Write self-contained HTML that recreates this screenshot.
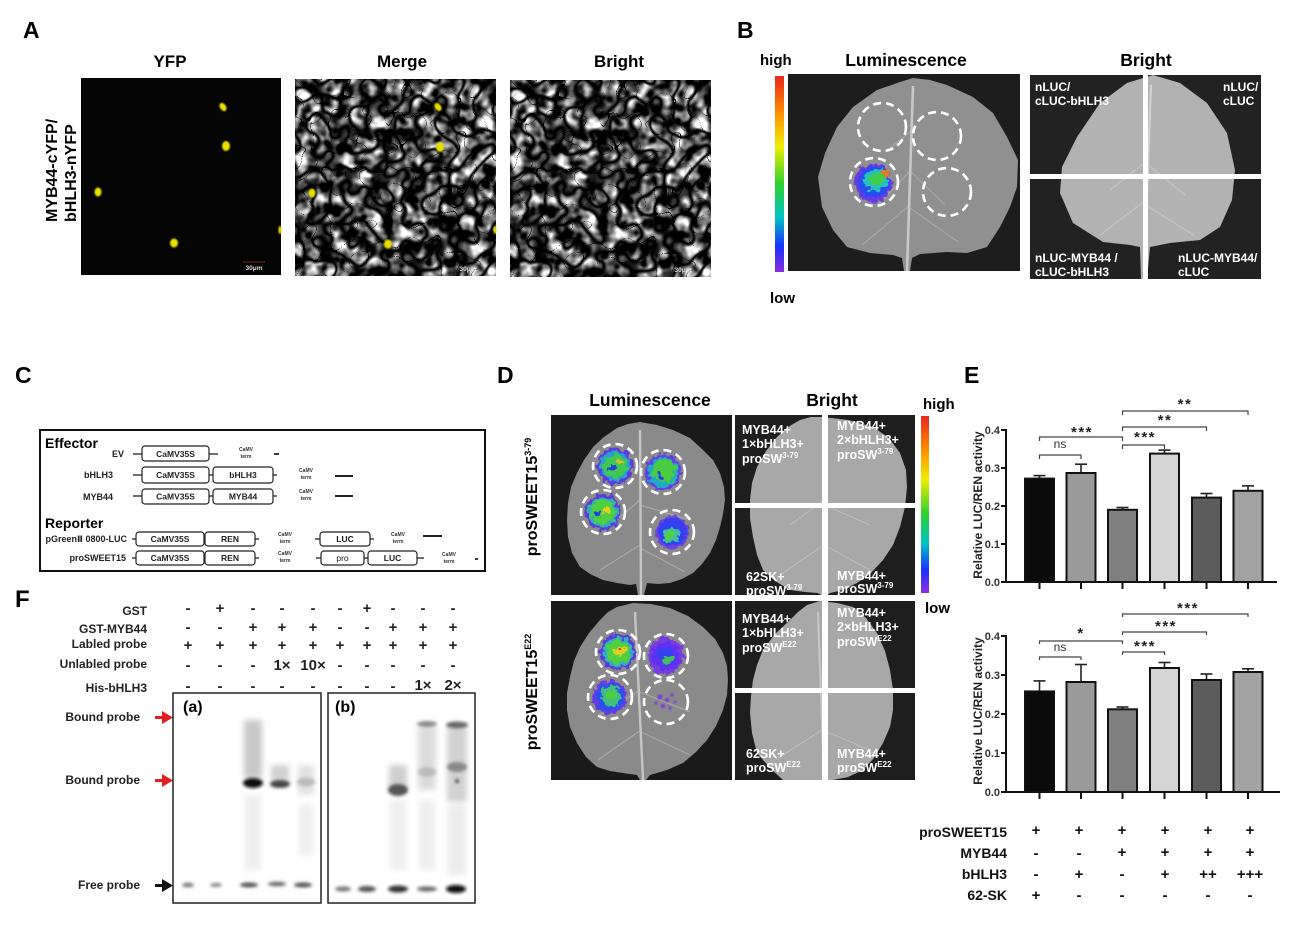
<!DOCTYPE html>
<html><head><meta charset="utf-8">
<style>
html,body{margin:0;padding:0;background:#fff;}
svg{display:block;}
text{font-family:"Liberation Sans","DejaVu Sans",Arial,sans-serif;}
.b{font-weight:bold;}
.w{fill:#fff;font-weight:bold;font-size:12.5px;}
.s{font-size:9px;font-weight:bold;fill:#222;}
.bx{font-size:8.5px;font-weight:bold;fill:#222;}
.t{font-size:5px;font-weight:bold;fill:#333;}
</style></head><body>
<svg width="1304" height="926" viewBox="0 0 1304 926" xmlns="http://www.w3.org/2000/svg">
<defs>
 <linearGradient id="cbar" x1="0" y1="0" x2="0" y2="1">
  <stop offset="0" stop-color="#e8261e"/>
  <stop offset="0.18" stop-color="#ff8a00"/>
  <stop offset="0.36" stop-color="#f0ee00"/>
  <stop offset="0.55" stop-color="#2ed12e"/>
  <stop offset="0.72" stop-color="#00c4c4"/>
  <stop offset="0.87" stop-color="#1a30ff"/>
  <stop offset="1" stop-color="#8a2ee0"/>
 </linearGradient>
 <filter id="cells" x="0" y="0" width="1" height="1" color-interpolation-filters="sRGB">
  <feTurbulence type="turbulence" baseFrequency="0.055" numOctaves="1" seed="7" result="t1"/>
  <feColorMatrix in="t1" type="matrix" values="6 0 0 0 -0.12  6 0 0 0 -0.12  6 0 0 0 -0.12  0 0 0 0 1" result="lines"/>
  <feTurbulence type="fractalNoise" baseFrequency="0.08" numOctaves="2" seed="3" result="t2"/>
  <feColorMatrix in="t2" type="matrix" values="2.6 0 0 0 -0.85  2.6 0 0 0 -0.85  2.6 0 0 0 -0.85  0 0 0 0 1" result="tone"/>
  <feComposite in="lines" in2="tone" operator="arithmetic" k1="1" k2="0" k3="0" k4="0"/>
 </filter>
 <filter id="rough" x="-40%" y="-40%" width="180%" height="180%">
  <feTurbulence type="fractalNoise" baseFrequency="0.2" numOctaves="2" seed="5" result="t"/>
  <feDisplacementMap in="SourceGraphic" in2="t" scale="9" xChannelSelector="R" yChannelSelector="G"/>
 </filter>
 <filter id="bl1" x="-50%" y="-50%" width="200%" height="200%"><feGaussianBlur stdDeviation="1.6"/></filter>
 <filter id="bl3" x="-50%" y="-50%" width="200%" height="200%"><feGaussianBlur stdDeviation="3"/></filter>
 <filter id="glow" x="-50%" y="-50%" width="200%" height="200%"><feGaussianBlur stdDeviation="0.7"/></filter>
</defs>

<!-- ================= PANEL A ================= -->
<text x="23" y="38" font-size="23" class="b">A</text>
<text x="170" y="67" font-size="17" class="b" text-anchor="middle">YFP</text>
<text x="402" y="67" font-size="17" class="b" text-anchor="middle">Merge</text>
<text x="619" y="67" font-size="17" class="b" text-anchor="middle">Bright</text>
<text transform="rotate(-90)" x="-222" y="57" font-size="16" class="b">MYB44-cYFP/</text>
<text transform="rotate(-90)" x="-222" y="76" font-size="16" class="b">bHLH3-nYFP</text>

<rect x="81" y="78" width="200" height="197" fill="#050505"/>
<g fill="#ece000" filter="url(#glow)">
 <ellipse cx="223" cy="107" rx="3" ry="4.5" transform="rotate(-35 223 107)"/>
 <ellipse cx="226" cy="146" rx="4" ry="5"/>
 <ellipse cx="98" cy="192" rx="3.5" ry="4.5"/>
 <ellipse cx="174" cy="243" rx="4" ry="4.5"/>
 <ellipse cx="280" cy="230" rx="1.5" ry="4"/>
</g>
<line x1="243" y1="262" x2="265" y2="262" stroke="#a03020" stroke-width="0.8"/>
<text x="254" y="270" font-size="6.5" fill="#ddd" text-anchor="middle" class="b">30μm</text>

<g transform="translate(295,79)"><rect x="0" y="0" width="201" height="197" filter="url(#cells)"/></g>
<g fill="#e8dc00" filter="url(#glow)">
 <ellipse cx="438" cy="107" rx="3" ry="4.5" transform="rotate(-35 438 107)"/>
 <ellipse cx="440" cy="147" rx="4" ry="5"/>
 <ellipse cx="312" cy="193" rx="3.5" ry="4.5"/>
 <ellipse cx="388" cy="244" rx="4" ry="4.5"/>
 <ellipse cx="495" cy="230" rx="1.5" ry="4"/>
</g>
<text x="468" y="271" font-size="6.5" fill="#ddd" text-anchor="middle" class="b">30μm</text>
<g transform="translate(510,80)"><rect x="0" y="0" width="201" height="197" filter="url(#cells)"/></g>
<text x="683" y="272" font-size="6.5" fill="#ddd" text-anchor="middle" class="b">30μm</text>

<!-- ================= PANEL B ================= -->
<text x="737" y="38" font-size="23" class="b">B</text>
<text x="760" y="65" font-size="15" class="b">high</text>
<text x="906" y="66" font-size="17.5" class="b" text-anchor="middle">Luminescence</text>
<text x="1146" y="66" font-size="17.5" class="b" text-anchor="middle">Bright</text>
<rect x="775" y="76" width="9" height="196" fill="url(#cbar)"/>
<text x="770" y="303" font-size="15" class="b">low</text>

<rect x="788" y="74" width="232" height="197" fill="#1d1d1d"/>
<polygon fill="#909090" points="913,78 930,80 947,85 973,97 993,113 1007,137 1018,160 1017,187 1010,207 1000,227 987,247 967,253 947,252 920,254 912,258 910,271 904,271 902,258 893,255 870,253 847,247 833,230 822,207 818,177 825,153 837,127 853,107 877,90 900,82"/>
<g stroke="#a6a6a6" stroke-width="1.2" fill="none">
 <path d="M910,205 L862,245"/><path d="M910,208 L958,242"/><path d="M911,170 L878,205"/><path d="M911,172 L945,205"/><path d="M912,130 L888,150"/>
</g>
<path d="M913,86 L907,271" stroke="#c8c8c8" stroke-width="2.6"/>
<g filter="url(#rough)">
 <circle cx="873" cy="183" r="19" fill="#6a3ae0"/>
 <circle cx="874" cy="182" r="16" fill="#2a4cf0"/>
 <ellipse cx="876" cy="180" rx="12" ry="11" fill="#28c0c0"/>
 <ellipse cx="877" cy="179" rx="8" ry="7" fill="#40cc50"/>
 <ellipse cx="886" cy="173" rx="4" ry="3" fill="#e08020"/>
</g>
<g fill="none" stroke="#fff" stroke-width="2.6" stroke-dasharray="8 5">
 <circle cx="882" cy="127" r="24"/><circle cx="937" cy="136" r="24"/>
 <circle cx="874" cy="182" r="24"/><circle cx="947" cy="192" r="24"/>
</g>

<rect x="1030" y="75" width="231" height="204" fill="#222"/>
<polygon fill="#b2b2b2" points="1153,75 1180,83 1207,103 1227,133 1235,170 1232,200 1220,227 1200,240 1170,243 1150,247 1147,279 1141,279 1140,247 1130,245 1103,242 1073,223 1060,193 1062,167 1077,137 1100,103 1127,83"/>
<g stroke="#c4c4c4" stroke-width="1.2" fill="none">
 <path d="M1146,200 L1100,235"/><path d="M1146,205 L1195,236"/><path d="M1148,160 L1110,190"/><path d="M1148,165 L1185,195"/>
</g>
<path d="M1151,85 L1144,279" stroke="#d4d4d4" stroke-width="2"/>
<rect x="1143" y="75" width="5" height="204" fill="#fff"/>
<rect x="1030" y="174" width="231" height="5" fill="#fff"/>
<text x="1035" y="91" font-size="12" class="b" fill="#fff">nLUC/</text>
<text x="1035" y="105" font-size="12" class="b" fill="#fff">cLUC-bHLH3</text>
<text x="1223" y="91" font-size="12" class="b" fill="#fff">nLUC/</text>
<text x="1223" y="105" font-size="12" class="b" fill="#fff">cLUC</text>
<text x="1035" y="262" font-size="12" class="b" fill="#fff">nLUC-MYB44 /</text>
<text x="1035" y="276" font-size="12" class="b" fill="#fff">cLUC-bHLH3</text>
<text x="1178" y="262" font-size="12" class="b" fill="#fff">nLUC-MYB44/</text>
<text x="1178" y="276" font-size="12" class="b" fill="#fff">cLUC</text>

<!-- ================= PANEL C ================= -->
<text x="15" y="383" font-size="23" class="b">C</text>
<rect x="40" y="430" width="445" height="141" fill="none" stroke="#111" stroke-width="2"/>
<text x="45" y="448" font-size="14" class="b">Effector</text>
<text x="45" y="528" font-size="14" class="b">Reporter</text>
<g stroke="#222" stroke-width="1.3" fill="none">
 <line x1="133" y1="454" x2="142" y2="454"/><line x1="209" y1="454" x2="218" y2="454"/>
 <line x1="274" y1="454" x2="279" y2="454" stroke-width="1.8"/>
 <line x1="133" y1="475" x2="142" y2="475"/><line x1="209" y1="475" x2="213" y2="475"/><line x1="273" y1="475" x2="277" y2="475"/>
 <line x1="335" y1="476" x2="353" y2="476" stroke-width="2"/>
 <line x1="133" y1="496" x2="142" y2="496"/><line x1="209" y1="496" x2="213" y2="496"/><line x1="273" y1="496" x2="277" y2="496"/>
 <line x1="335" y1="496" x2="353" y2="496" stroke-width="2"/>
 <line x1="132" y1="539" x2="136" y2="539"/><line x1="255" y1="539" x2="259" y2="539"/>
 <line x1="315" y1="539" x2="320" y2="539"/><line x1="370" y1="539" x2="374" y2="539"/>
 <line x1="423" y1="536" x2="442" y2="536" stroke-width="2"/>
 <line x1="132" y1="558" x2="136" y2="558"/><line x1="255" y1="558" x2="259" y2="558"/>
 <line x1="316" y1="558" x2="321" y2="558"/><line x1="364" y1="558" x2="368" y2="558"/>
 <line x1="417" y1="558" x2="424" y2="558"/>
 <line x1="475" y1="559" x2="478" y2="559" stroke-width="1.8"/>
</g>
<g fill="#fff" stroke="#222" stroke-width="1.2">
 <rect x="142" y="446" width="67" height="15" rx="3"/>
 <rect x="142" y="467" width="67" height="16" rx="3"/><rect x="213" y="467" width="60" height="16" rx="3"/>
 <rect x="142" y="489" width="67" height="15" rx="3"/><rect x="213" y="489" width="60" height="15" rx="3"/>
 <rect x="136" y="532" width="68" height="14" rx="3"/><rect x="205" y="532" width="50" height="14" rx="3"/><rect x="320" y="532" width="50" height="14" rx="3"/>
 <rect x="136" y="551" width="68" height="14" rx="3"/><rect x="205" y="551" width="50" height="14" rx="3"/><rect x="321" y="551" width="43" height="14" rx="3"/><rect x="368" y="551" width="49" height="14" rx="3"/>
</g>
<text x="124" y="457" class="s" text-anchor="end">EV</text>
<text x="113" y="478" class="s" text-anchor="end">bHLH3</text>
<text x="113" y="500" class="s" text-anchor="end">MYB44</text>
<text x="127" y="542" class="s" text-anchor="end">pGreenⅡ 0800-LUC</text>
<text x="126" y="561" class="s" text-anchor="end">proSWEET15</text>
<g class="bx" text-anchor="middle">
 <text x="175.5" y="457">CaMV35S</text>
 <text x="175.5" y="478">CaMV35S</text><text x="243" y="478">bHLH3</text>
 <text x="175.5" y="499.5">CaMV35S</text><text x="243" y="499.5">MYB44</text>
 <text x="170" y="542">CaMV35S</text><text x="230" y="542">REN</text><text x="345" y="542">LUC</text>
 <text x="170" y="561">CaMV35S</text><text x="230" y="561">REN</text><text x="342.5" y="561" font-weight="normal">pro</text><text x="392.5" y="561">LUC</text>
</g>
<g class="t" text-anchor="middle">
 <text x="246" y="451">CaMV</text><text x="246" y="458">term</text>
 <text x="306" y="472">CaMV</text><text x="306" y="479">term</text>
 <text x="306" y="493">CaMV</text><text x="306" y="500">term</text>
 <text x="285" y="536">CaMV</text><text x="285" y="543">term</text>
 <text x="398" y="536">CaMV</text><text x="398" y="543">term</text>
 <text x="285" y="555">CaMV</text><text x="285" y="562">term</text>
 <text x="449" y="556">CaMV</text><text x="449" y="563">term</text>
</g>

<!-- ================= PANEL D ================= -->
<text x="497" y="383" font-size="23" class="b">D</text>
<text x="650" y="406" font-size="17.5" class="b" text-anchor="middle">Luminescence</text>
<text x="832" y="406" font-size="17.5" class="b" text-anchor="middle">Bright</text>
<text x="923" y="409" font-size="15" class="b">high</text>
<rect x="921" y="416" width="8" height="177" fill="url(#cbar)"/>
<text x="925" y="613" font-size="15" class="b">low</text>
<text transform="rotate(-90)" x="-497" y="537" font-size="16" class="b" text-anchor="middle">proSWEET15<tspan font-size="9" dy="-6">3-79</tspan></text>
<text transform="rotate(-90)" x="-692" y="537" font-size="16" class="b" text-anchor="middle">proSWEET15<tspan font-size="9" dy="-6">E22</tspan></text>

<rect x="551" y="415" width="181" height="180" fill="#1a1a1a"/>
<polygon fill="#8a8a8a" points="640,422 657,425 673,430 690,438 703,450 713,460 720,473 724,487 725,500 723,514 720,527 716,540 710,553 702,564 693,573 682,579 670,583 658,584 647,583 644,595 638,595 636,584 630,585 617,583 603,580 590,574 580,567 572,553 568,537 567,520 568,503 571,487 577,473 584,460 593,447 604,437 617,428 628,424"/>
<g stroke="#a8a8a8" stroke-width="1.2" fill="none"><path d="M640,545 L600,570"/><path d="M640,548 L685,572"/><path d="M640,500 L605,530"/><path d="M640,505 L690,520"/></g>
<path d="M640,430 L641,595" stroke="#c6c6c6" stroke-width="2.4"/>
<g filter="url(#rough)">
 <circle cx="615" cy="466" r="18" fill="#5a3ae0"/><circle cx="615" cy="466" r="15" fill="#2aa0d0"/><circle cx="615" cy="466" r="12" fill="#40c850"/><ellipse cx="612" cy="468" rx="4" ry="3" fill="#2040e0"/><ellipse cx="620" cy="462" rx="3" ry="2" fill="#d8c020"/>
 <circle cx="663" cy="472" r="18" fill="#6040e0"/><circle cx="663" cy="472" r="15" fill="#20a8c8"/><circle cx="664" cy="471" r="12" fill="#48cc40"/><ellipse cx="660" cy="476" rx="3" ry="3" fill="#2040e0"/>
 <circle cx="603" cy="512" r="18" fill="#5a3ae0"/><circle cx="603" cy="512" r="15" fill="#30b0b0"/><circle cx="603" cy="512" r="12" fill="#50d040"/><ellipse cx="606" cy="510" rx="4" ry="3" fill="#e0d020"/><ellipse cx="598" cy="514" rx="3" ry="2" fill="#2040e0"/>
 <circle cx="672" cy="532" r="17" fill="#7040e0"/><circle cx="672" cy="532" r="14" fill="#3040f0"/><ellipse cx="671" cy="535" rx="9" ry="7" fill="#40c0a0"/><ellipse cx="670" cy="536" rx="5" ry="4" fill="#50d040"/>
</g>
<g fill="none" stroke="#fff" stroke-width="2.6" stroke-dasharray="8 5">
 <circle cx="615" cy="466" r="22"/><circle cx="663" cy="472" r="22"/><circle cx="603" cy="512" r="22"/><circle cx="672" cy="532" r="22"/>
</g>

<rect x="735" y="415" width="180" height="180" fill="#1e1e1e"/>
<polygon fill="#a8a8a8" points="823,417 848,420 873,427 889,438 900,453 906,470 907,487 905,507 900,527 893,545 883,560 871,573 857,583 843,590 830,593 827,595 821,595 818,593 805,592 790,590 775,581 763,570 757,555 753,537 750,518 750,500 752,483 757,467 766,451 777,437 788,427 800,420 811,417"/>
<g stroke="#bcbcbc" stroke-width="1.2" fill="none"><path d="M824,545 L780,575"/><path d="M824,545 L870,570"/><path d="M824,500 L790,525"/><path d="M824,505 L870,525"/></g>
<path d="M823,425 L824,595" stroke="#c8c8c8" stroke-width="2"/>
<rect x="822" y="415" width="6" height="180" fill="#fff"/>
<rect x="735" y="503" width="180" height="5" fill="#fff"/>
<text x="742" y="434" class="w">MYB44+</text>
<text x="742" y="448" class="w">1×bHLH3+</text>
<text x="742" y="463" class="w">proSW<tspan font-size="8" dy="-5">3-79</tspan></text>
<text x="837" y="430" class="w">MYB44+</text>
<text x="837" y="444" class="w">2×bHLH3+</text>
<text x="837" y="459" class="w">proSW<tspan font-size="8" dy="-5">3-79</tspan></text>
<text x="746" y="581" class="w">62SK+</text>
<text x="746" y="595" class="w">proSW<tspan font-size="8" dy="-5">3-79</tspan></text>
<text x="837" y="580" class="w">MYB44+</text>
<text x="837" y="593" class="w">proSW<tspan font-size="8" dy="-5">3-79</tspan></text>

<rect x="551" y="601" width="181" height="179" fill="#1a1a1a"/>
<polygon fill="#8a8a8a" points="633,603 651,604 670,608 688,616 703,627 715,639 723,653 727,666 728,680 727,695 723,710 716,726 707,740 696,752 683,763 667,770 650,775 646,780 640,780 637,775 623,773 610,771 597,767 586,757 577,743 570,727 567,710 567,693 570,677 574,661 580,647 589,633 600,620 608,612 617,607"/>
<g stroke="#a8a8a8" stroke-width="1.2" fill="none"><path d="M641,730 L598,760"/><path d="M641,732 L690,755"/><path d="M640,690 L600,715"/><path d="M640,692 L690,712"/></g>
<path d="M635,612 L643,780" stroke="#c6c6c6" stroke-width="2.4"/>
<g filter="url(#rough)">
 <circle cx="618" cy="652" r="18" fill="#5a3ae0"/><circle cx="618" cy="652" r="15" fill="#30b0c0"/><circle cx="618" cy="652" r="12" fill="#50d040"/><ellipse cx="620" cy="650" rx="6" ry="5" fill="#e0d020"/><ellipse cx="621" cy="649" rx="2.5" ry="2" fill="#e04020"/>
 <circle cx="666" cy="656" r="18" fill="#7a3ae0"/><circle cx="666" cy="656" r="14" fill="#5a30f0"/><ellipse cx="664" cy="654" rx="8" ry="6" fill="#3040f0"/><ellipse cx="668" cy="660" rx="5" ry="4" fill="#40c060"/>
 <circle cx="610" cy="697" r="17" fill="#6a3ae0"/><circle cx="610" cy="697" r="14" fill="#2a50f0"/><circle cx="611" cy="696" r="10" fill="#40c080"/><ellipse cx="612" cy="695" rx="5" ry="4" fill="#50d040"/>
</g>
<g fill="#7a3ae0" filter="url(#glow)">
 <circle cx="660" cy="697" r="2.5"/><circle cx="667" cy="700" r="2"/><circle cx="672" cy="695" r="1.8"/><circle cx="663" cy="706" r="2.2"/><circle cx="670" cy="708" r="1.6"/><circle cx="656" cy="703" r="1.5"/><circle cx="675" cy="702" r="1.4"/>
</g>
<g fill="none" stroke="#fff" stroke-width="2.6" stroke-dasharray="8 5">
 <circle cx="618" cy="652" r="22"/><circle cx="666" cy="656" r="22"/><circle cx="610" cy="697" r="22"/><circle cx="666" cy="702" r="22"/>
</g>

<rect x="735" y="601" width="180" height="179" fill="#1e1e1e"/>
<polygon fill="#a8a8a8" points="820,601 837,603 853,607 866,618 877,633 885,651 890,670 893,690 893,710 890,727 883,743 874,758 863,770 848,777 833,780 783,780 770,768 757,753 752,733 750,713 751,696 753,680 757,665 763,650 775,634 790,620 798,612 807,605"/>
<g stroke="#bcbcbc" stroke-width="1.2" fill="none"><path d="M822,730 L775,760"/><path d="M822,730 L870,750"/></g>
<path d="M818,612 L824,780" stroke="#c8c8c8" stroke-width="2"/>
<rect x="822" y="601" width="6" height="179" fill="#fff"/>
<rect x="735" y="688" width="180" height="5" fill="#fff"/>
<text x="742" y="623" class="w">MYB44+</text>
<text x="742" y="637" class="w">1×bHLH3+</text>
<text x="742" y="652" class="w">proSW<tspan font-size="8" dy="-5">E22</tspan></text>
<text x="837" y="617" class="w">MYB44+</text>
<text x="837" y="631" class="w">2×bHLH3+</text>
<text x="837" y="646" class="w">proSW<tspan font-size="8" dy="-5">E22</tspan></text>
<text x="746" y="758" class="w">62SK+</text>
<text x="746" y="772" class="w">proSW<tspan font-size="8" dy="-5">E22</tspan></text>
<text x="837" y="758" class="w">MYB44+</text>
<text x="837" y="772" class="w">proSW<tspan font-size="8" dy="-5">E22</tspan></text>

<!-- ================= PANEL E ================= -->
<text x="964" y="383" font-size="23" class="b">E</text>
<text transform="rotate(-90)" x="-505" y="982" font-size="12" class="b" fill="#222" text-anchor="middle">Relative LUC/REN activity</text>
<g font-size="11" class="b" fill="#333" text-anchor="end">
 <text x="1000" y="434">0.4</text><text x="1000" y="472">0.3</text><text x="1000" y="510">0.2</text><text x="1000" y="548">0.1</text><text x="1000" y="586">0.0</text>
</g>
<g stroke="#111" stroke-width="2">
 <line x1="1006" y1="429" x2="1006" y2="583"/><line x1="1005" y1="582" x2="1277" y2="582"/>
 <line x1="1001" y1="430" x2="1006" y2="430"/><line x1="1001" y1="468" x2="1006" y2="468"/><line x1="1001" y1="506" x2="1006" y2="506"/><line x1="1001" y1="544" x2="1006" y2="544"/><line x1="1001" y1="582" x2="1006" y2="582"/>
 <line x1="1039.5" y1="582" x2="1039.5" y2="589"/><line x1="1081" y1="582" x2="1081" y2="589"/><line x1="1122.5" y1="582" x2="1122.5" y2="589"/><line x1="1164.5" y1="582" x2="1164.5" y2="589"/><line x1="1206.5" y1="582" x2="1206.5" y2="589"/><line x1="1248" y1="582" x2="1248" y2="589"/>
</g>
<g stroke="#222" stroke-width="1.6">
 <line x1="1039.5" y1="478.6" x2="1039.5" y2="475.6"/><line x1="1033.5" y1="475.6" x2="1045.5" y2="475.6"/>
 <line x1="1081" y1="473" x2="1081" y2="464.2"/><line x1="1075" y1="464.2" x2="1087" y2="464.2"/>
 <line x1="1122.5" y1="509.8" x2="1122.5" y2="507.5"/><line x1="1116.5" y1="507.5" x2="1128.5" y2="507.5"/>
 <line x1="1164.5" y1="453.6" x2="1164.5" y2="450.1"/><line x1="1158.5" y1="450.1" x2="1170.5" y2="450.1"/>
 <line x1="1206.5" y1="497.6" x2="1206.5" y2="493.5"/><line x1="1200.5" y1="493.5" x2="1212.5" y2="493.5"/>
 <line x1="1248" y1="490.8" x2="1248" y2="485.9"/><line x1="1242" y1="485.9" x2="1254" y2="485.9"/>
</g>
<g stroke="#111" stroke-width="2">
 <rect x="1025" y="478.6" width="29" height="103.4" fill="#0b0b0b"/>
 <rect x="1066.5" y="473" width="29" height="109" fill="#9a9a9a"/>
 <rect x="1108" y="509.8" width="29" height="72.2" fill="#808080"/>
 <rect x="1150" y="453.6" width="29" height="128.4" fill="#d5d5d5"/>
 <rect x="1192" y="497.6" width="29" height="84.4" fill="#5c5c5c"/>
 <rect x="1233.5" y="490.8" width="29" height="91.2" fill="#a2a2a2"/>
</g>
<g stroke="#444" stroke-width="1.2" fill="none">
 <path d="M1039.5,459 V455 H1081 V459"/>
 <path d="M1039.5,441 V437 H1122.5 V441"/>
 <path d="M1122.5,449 V445 H1164.5 V449"/>
 <path d="M1122.5,431 V427 H1206.5 V431"/>
 <path d="M1122.5,415 V411 H1248 V415"/>
</g>
<text x="1060" y="448" font-size="12" fill="#333" text-anchor="middle">ns</text>
<g font-size="15" class="b" fill="#222" text-anchor="middle" letter-spacing="1.5">
 <text x="1082" y="437">***</text><text x="1145" y="442">***</text><text x="1165" y="425">**</text><text x="1185" y="409">**</text>
</g>

<text transform="rotate(-90)" x="-711" y="982" font-size="12" class="b" fill="#222" text-anchor="middle">Relative LUC/REN activity</text>
<g font-size="11" class="b" fill="#333" text-anchor="end">
 <text x="1000" y="640">0.4</text><text x="1000" y="679">0.3</text><text x="1000" y="718">0.2</text><text x="1000" y="757">0.1</text><text x="1000" y="796">0.0</text>
</g>
<g stroke="#111" stroke-width="2">
 <line x1="1006" y1="635" x2="1006" y2="793"/><line x1="1005" y1="792" x2="1280" y2="792"/>
 <line x1="1001" y1="636" x2="1006" y2="636"/><line x1="1001" y1="675" x2="1006" y2="675"/><line x1="1001" y1="714" x2="1006" y2="714"/><line x1="1001" y1="753" x2="1006" y2="753"/><line x1="1001" y1="792" x2="1006" y2="792"/>
 <line x1="1039.5" y1="792" x2="1039.5" y2="799"/><line x1="1081" y1="792" x2="1081" y2="799"/><line x1="1122.5" y1="792" x2="1122.5" y2="799"/><line x1="1164.5" y1="792" x2="1164.5" y2="799"/><line x1="1206.5" y1="792" x2="1206.5" y2="799"/><line x1="1248" y1="792" x2="1248" y2="799"/>
</g>
<g stroke="#222" stroke-width="1.6">
 <line x1="1039.5" y1="691.4" x2="1039.5" y2="680.9"/><line x1="1033.5" y1="680.9" x2="1045.5" y2="680.9"/>
 <line x1="1081" y1="682" x2="1081" y2="664.5"/><line x1="1075" y1="664.5" x2="1087" y2="664.5"/>
 <line x1="1122.5" y1="709.3" x2="1122.5" y2="707"/><line x1="1116.5" y1="707" x2="1128.5" y2="707"/>
 <line x1="1164.5" y1="668" x2="1164.5" y2="662.5"/><line x1="1158.5" y1="662.5" x2="1170.5" y2="662.5"/>
 <line x1="1206.5" y1="680" x2="1206.5" y2="674"/><line x1="1200.5" y1="674" x2="1212.5" y2="674"/>
 <line x1="1248" y1="672" x2="1248" y2="668.8"/><line x1="1242" y1="668.8" x2="1254" y2="668.8"/>
</g>
<g stroke="#111" stroke-width="2">
 <rect x="1025" y="691.4" width="29" height="100.6" fill="#0b0b0b"/>
 <rect x="1066.5" y="682" width="29" height="110" fill="#9a9a9a"/>
 <rect x="1108" y="709.3" width="29" height="82.7" fill="#808080"/>
 <rect x="1150" y="668" width="29" height="124" fill="#d5d5d5"/>
 <rect x="1192" y="680" width="29" height="112" fill="#5c5c5c"/>
 <rect x="1233.5" y="672" width="29" height="120" fill="#a2a2a2"/>
</g>
<g stroke="#444" stroke-width="1.2" fill="none">
 <path d="M1039.5,660 V657 H1081 V660"/>
 <path d="M1039.5,644 V641 H1122.5 V644"/>
 <path d="M1122.5,655 V652 H1164.5 V655"/>
 <path d="M1122.5,635 V632 H1206.5 V635"/>
 <path d="M1122.5,617 V614 H1248 V617"/>
</g>
<text x="1060" y="651" font-size="12" fill="#333" text-anchor="middle">ns</text>
<g font-size="15" class="b" fill="#222" text-anchor="middle" letter-spacing="1.5">
 <text x="1081" y="638">*</text><text x="1145" y="651">***</text><text x="1166" y="631">***</text><text x="1188" y="613">***</text>
</g>

<g font-size="14" class="b" fill="#111" text-anchor="end">
 <text x="1007" y="837">proSWEET15</text><text x="1007" y="858">MYB44</text><text x="1007" y="879">bHLH3</text><text x="1007" y="900">62-SK</text>
</g>
<g font-size="15" class="b" fill="#111" text-anchor="middle">
 <text x="1036" y="835">+</text><text x="1079" y="835">+</text><text x="1122" y="835">+</text><text x="1165" y="835">+</text><text x="1208" y="835">+</text><text x="1250" y="835">+</text>
 <text x="1036" y="858">-</text><text x="1079" y="858">-</text><text x="1122" y="857">+</text><text x="1165" y="857">+</text><text x="1208" y="857">+</text><text x="1250" y="857">+</text>
 <text x="1036" y="879">-</text><text x="1079" y="879">+</text><text x="1122" y="879">-</text><text x="1165" y="879">+</text><text x="1208" y="879">++</text><text x="1250" y="879">+++</text>
 <text x="1036" y="900">+</text><text x="1079" y="900">-</text><text x="1122" y="900">-</text><text x="1165" y="900">-</text><text x="1208" y="900">-</text><text x="1250" y="900">-</text>
</g>

<!-- ================= PANEL F ================= -->
<text x="15" y="607" font-size="24" class="b">F</text>
<g font-size="12" class="b" fill="#222" text-anchor="end">
 <text x="147" y="615">GST</text>
 <text x="147" y="633">GST-MYB44</text>
 <text x="147" y="648">Labled probe</text>
 <text x="147" y="668">Unlabled probe</text>
 <text x="147" y="692">His-bHLH3</text>
</g>
<g font-size="15" class="b" fill="#222" text-anchor="middle">
 <text x="188" y="613">-</text><text x="220" y="613">+</text><text x="253" y="613">-</text><text x="282" y="613">-</text><text x="313" y="613">-</text><text x="340" y="613">-</text><text x="367" y="613">+</text><text x="393" y="613">-</text><text x="423" y="613">-</text><text x="453" y="613">-</text>
 <text x="188" y="632">-</text><text x="220" y="632">-</text><text x="253" y="632">+</text><text x="282" y="632">+</text><text x="313" y="632">+</text><text x="340" y="632">-</text><text x="367" y="632">-</text><text x="393" y="632">+</text><text x="423" y="632">+</text><text x="453" y="632">+</text>
 <text x="188" y="650">+</text><text x="220" y="650">+</text><text x="253" y="650">+</text><text x="282" y="650">+</text><text x="313" y="650">+</text><text x="340" y="650">+</text><text x="367" y="650">+</text><text x="393" y="650">+</text><text x="423" y="650">+</text><text x="453" y="650">+</text>
 <text x="188" y="670">-</text><text x="220" y="670">-</text><text x="253" y="670">-</text><text x="282" y="670">1×</text><text x="313" y="670">10×</text><text x="340" y="670">-</text><text x="367" y="670">-</text><text x="393" y="670">-</text><text x="423" y="670">-</text><text x="453" y="670">-</text>
 <text x="188" y="691">-</text><text x="220" y="691">-</text><text x="253" y="691">-</text><text x="282" y="691">-</text><text x="313" y="691">-</text><text x="340" y="691">-</text><text x="367" y="691">-</text><text x="393" y="691">-</text><text x="423" y="690">1×</text><text x="453" y="690">2×</text>
</g>
<g font-size="12" class="b" fill="#222" text-anchor="end">
 <text x="140" y="721">Bound probe</text>
 <text x="140" y="784">Bound probe</text>
 <text x="140" y="889">Free probe</text>
</g>
<g fill="#e02020">
 <rect x="155" y="716" width="10" height="3"/><polygon points="162,711 173,717.5 162,724"/>
 <rect x="155" y="779" width="10" height="3"/><polygon points="162,774 173,780.5 162,787"/>
</g>
<g fill="#111">
 <rect x="155" y="884" width="10" height="3"/><polygon points="162,879 173,885.5 162,892"/>
</g>
<rect x="173" y="693" width="148" height="210" fill="#fff" stroke="#222" stroke-width="1.5"/>
<rect x="328" y="693" width="147" height="210" fill="#fff" stroke="#222" stroke-width="1.5"/>
<g filter="url(#bl3)">
 <rect x="244" y="720" width="18" height="58" fill="#c8c8c8"/>
 <rect x="245" y="795" width="16" height="75" fill="#eeeeee"/>
 <rect x="271" y="765" width="18" height="16" fill="#d0d0d0"/>
 <rect x="298" y="765" width="16" height="30" fill="#e2e2e2"/>
 <rect x="299" y="805" width="14" height="50" fill="#efefef"/>
 <rect x="389" y="765" width="18" height="25" fill="#cfcfcf"/>
 <rect x="390" y="800" width="16" height="70" fill="#efefef"/>
 <rect x="418" y="726" width="18" height="64" fill="#dcdcdc"/>
 <rect x="419" y="800" width="16" height="70" fill="#efefef"/>
 <rect x="447" y="727" width="20" height="75" fill="#d2d2d2"/>
 <rect x="448" y="805" width="18" height="70" fill="#ececec"/>
</g>
<g filter="url(#bl1)">
 <ellipse cx="188" cy="885" rx="6" ry="2.2" fill="#777"/>
 <ellipse cx="216" cy="885" rx="6" ry="2" fill="#888"/>
 <ellipse cx="249" cy="885" rx="9" ry="2.5" fill="#555"/>
 <ellipse cx="277" cy="884" rx="9" ry="2.3" fill="#666"/>
 <ellipse cx="303" cy="885" rx="9" ry="2.5" fill="#555"/>
 <ellipse cx="253" cy="783" rx="10" ry="5" fill="#111"/>
 <ellipse cx="280" cy="784" rx="10" ry="4" fill="#444"/>
 <ellipse cx="306" cy="782" rx="9" ry="4.5" fill="#bbb"/>
 <ellipse cx="343" cy="889" rx="8" ry="2.5" fill="#777"/>
 <ellipse cx="367" cy="889" rx="9" ry="3" fill="#555"/>
 <ellipse cx="398" cy="889" rx="10" ry="3.5" fill="#333"/>
 <ellipse cx="427" cy="889" rx="10" ry="2.5" fill="#666"/>
 <ellipse cx="456" cy="889" rx="10" ry="4" fill="#111"/>
 <ellipse cx="398" cy="790" rx="10" ry="6" fill="#555"/>
 <ellipse cx="427" cy="724" rx="10" ry="3" fill="#888"/>
 <ellipse cx="427" cy="772" rx="9" ry="5" fill="#bbb"/>
 <ellipse cx="457" cy="725" rx="11" ry="3.5" fill="#666"/>
 <ellipse cx="457" cy="767" rx="10" ry="5" fill="#888"/>
 <circle cx="457" cy="781" r="1.6" fill="#000"/>
</g>
<text x="183" y="712" font-size="16" class="b">(a)</text>
<text x="335" y="712" font-size="16" class="b">(b)</text>
</svg>
</body></html>
